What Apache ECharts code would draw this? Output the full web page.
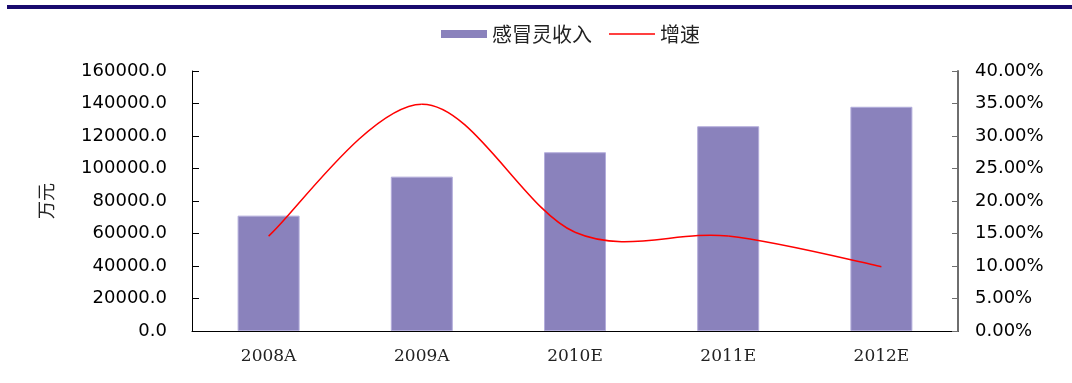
<!DOCTYPE html>
<html>
<head>
<meta charset="utf-8">
<script src="https://cdn.jsdelivr.net/npm/echarts@6/dist/echarts.min.js"></script>
<style>
html,body{margin:0;padding:0;background:#fff;}
#chart{width:1072px;height:383px;}
</style>
</head>
<body>
<div id="chart"></div>
<script>
var categories = ['2008A', '2009A', '2010E', '2011E', '2012E'];
var revenue = [71000, 95000, 110000, 126000, 138000];
var growth = [14.6, 34.9, 15.2, 14.6, 9.9];
var seriesNames = ['感冒灵收入', '增速'];
var leftAxisName = '万元';

// Excel-style smoothed line (Catmull-Rom -> cubic Bezier), positions from the axis scales via api.coord
function renderGrowth(params, api) {
  if (params.dataIndex !== 0) return null;
  var pts = growth.map(function (v, i) { return api.coord([i, v]); });
  var n = pts.length, children = [];
  for (var i = 0; i < n - 1; i++) {
    var p0 = pts[Math.max(i - 1, 0)], p1 = pts[i], p2 = pts[i + 1], p3 = pts[Math.min(i + 2, n - 1)];
    children.push({
      type: 'bezierCurve',
      shape: {
        x1: p1[0], y1: p1[1], x2: p2[0], y2: p2[1],
        cpx1: p1[0] + (p2[0] - p0[0]) / 6, cpy1: p1[1] + (p2[1] - p0[1]) / 6,
        cpx2: p2[0] - (p3[0] - p1[0]) / 6, cpy2: p2[1] - (p3[1] - p1[1]) / 6
      },
      style: {stroke: '#ff0000', fill: null, lineWidth: 1.5}
    });
  }
  return {type: 'group', children: children};
}

var chart = echarts.init(document.getElementById('chart'), null, {renderer: 'canvas'});
var option = {
  animation: false,
  backgroundColor: '#ffffff',
  graphic: [{
    type: 'rect',
    left: 7, top: 5,
    shape: {width: 1065, height: 4},
    style: {fill: '#190a6e'}
  }],
  legend: {
    left: 436, top: 19,
    itemWidth: 46, itemHeight: 8, itemGap: 17,
    textStyle: {fontFamily: 'Noto Sans CJK SC', fontSize: 20, color: '#222'},
    data: [
      {name: seriesNames[0], icon: 'rect', itemStyle: {borderWidth: 0}},
      {name: seriesNames[1], icon: 'path://M0,0H46V1.6H0Z', itemStyle: {color: '#ff0000'}}
    ]
  },
  grid: {left: 192, right: 114, top: 71, bottom: 52},
  xAxis: {
    type: 'category',
    data: categories,
    axisLine: {lineStyle: {color: '#000', width: 1}},
    axisTick: {inside: true, length: 5, lineStyle: {color: '#000'}},
    axisLabel: {fontFamily: 'DejaVu Serif', fontSize: 17, color: '#222', margin: 17}
  },
  yAxis: [{
    type: 'value',
    min: 0, max: 160000, interval: 20000,
    name: leftAxisName,
    nameLocation: 'middle',
    nameGap: 137,
    nameTextStyle: {fontFamily: 'Noto Sans CJK SC', fontSize: 18, color: '#222'},
    splitLine: {show: false},
    axisLine: {show: true, lineStyle: {color: '#000', width: 1}},
    axisTick: {show: true, inside: true, length: 7, lineStyle: {color: '#000'}},
    axisLabel: {fontFamily: 'DejaVu Sans', fontSize: 18, color: '#000', margin: 25,
      formatter: function (v) { return v.toFixed(1); }}
  }, {
    type: 'value',
    min: 0, max: 40, interval: 5,
    splitLine: {show: false},
    axisLine: {show: true, lineStyle: {color: '#6e6e6e', width: 2}},
    axisTick: {show: true, inside: true, length: 6, lineStyle: {color: '#6e6e6e'}},
    axisLabel: {fontFamily: 'DejaVu Sans', fontSize: 18, color: '#000', margin: 17,
      formatter: function (v) { return v.toFixed(2) + '%'; }}
  }],
  series: [{
    name: seriesNames[0],
    type: 'bar',
    data: revenue,
    barWidth: 62,
    itemStyle: {color: '#8a82bc', borderColor: '#b3addb', borderWidth: 1}
  }, {
    name: seriesNames[1],
    type: 'custom',
    yAxisIndex: 1,
    data: growth,
    renderItem: renderGrowth,
    itemStyle: {color: '#ff0000'},
    z: 5
  }]
};
chart.setOption(option);
</script>
</body>
</html>
